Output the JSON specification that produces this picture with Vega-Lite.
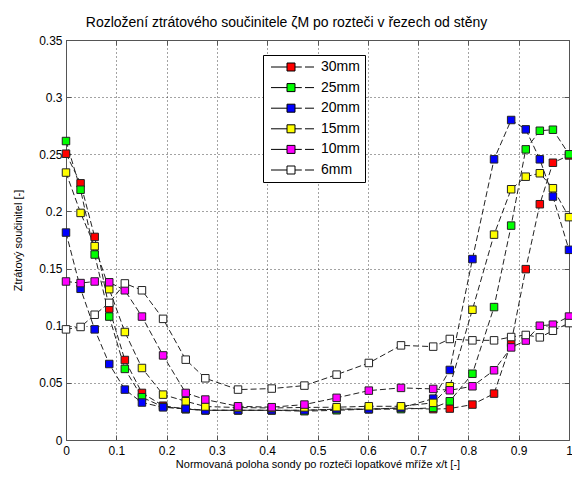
{
  "$schema": "https://vega.github.io/schema/vega-lite/v6.json",
  "width": 503,
  "height": 400,
  "autosize": "none",
  "padding": {"left": 66, "top": 40, "right": 3, "bottom": 38},
  "background": "white",
  "title": {"text": "Rozložení ztrátového součinitele ζM po rozteči v řezech od stěny", "font": "Liberation Sans", "fontSize": 14, "fontWeight": "normal", "color": "black", "offset": 4, "dx": -31},
  "config": {
    "view": {"stroke": null},
    "axis": {"domainColor": "#555", "tickColor": "#555", "labelFont": "Liberation Sans", "labelFontSize": 12, "labelColor": "black", "titleFont": "Liberation Sans", "titleFontWeight": "normal", "titleColor": "black", "titleFontSize": 11, "gridColor": "#333", "gridDash": [1, 3], "gridOpacity": 0.9}
  },
  "data": {"values": [
    {"s":"30mm","x":0,"y":0.2505},{"s":"30mm","x":0.029,"y":0.2246},{"s":"30mm","x":0.057,"y":0.1777},{"s":"30mm","x":0.086,"y":0.115},{"s":"30mm","x":0.117,"y":0.070},{"s":"30mm","x":0.151,"y":0.0412},{"s":"30mm","x":0.193,"y":0.030},{"s":"30mm","x":0.238,"y":0.027},{"s":"30mm","x":0.277,"y":0.026},{"s":"30mm","x":0.342,"y":0.026},{"s":"30mm","x":0.409,"y":0.026},{"s":"30mm","x":0.474,"y":0.026},{"s":"30mm","x":0.538,"y":0.027},{"s":"30mm","x":0.602,"y":0.027},{"s":"30mm","x":0.666,"y":0.028},{"s":"30mm","x":0.73,"y":0.027},{"s":"30mm","x":0.763,"y":0.0275},{"s":"30mm","x":0.808,"y":0.031},{"s":"30mm","x":0.851,"y":0.0406},{"s":"30mm","x":0.885,"y":0.085},{"s":"30mm","x":0.914,"y":0.1495},{"s":"30mm","x":0.942,"y":0.2063},{"s":"30mm","x":0.968,"y":0.2426},{"s":"30mm","x":1.0,"y":0.249},
    {"s":"25mm","x":0,"y":0.2616},{"s":"25mm","x":0.029,"y":0.219},{"s":"25mm","x":0.057,"y":0.1623},{"s":"25mm","x":0.086,"y":0.108},{"s":"25mm","x":0.117,"y":0.0622},{"s":"25mm","x":0.151,"y":0.0374},{"s":"25mm","x":0.193,"y":0.029},{"s":"25mm","x":0.238,"y":0.027},{"s":"25mm","x":0.277,"y":0.026},{"s":"25mm","x":0.342,"y":0.026},{"s":"25mm","x":0.409,"y":0.026},{"s":"25mm","x":0.474,"y":0.0252},{"s":"25mm","x":0.538,"y":0.026},{"s":"25mm","x":0.602,"y":0.027},{"s":"25mm","x":0.666,"y":0.027},{"s":"25mm","x":0.73,"y":0.0281},{"s":"25mm","x":0.763,"y":0.0339},{"s":"25mm","x":0.808,"y":0.058},{"s":"25mm","x":0.851,"y":0.1163},{"s":"25mm","x":0.885,"y":0.1876},{"s":"25mm","x":0.914,"y":0.2543},{"s":"25mm","x":0.942,"y":0.2706},{"s":"25mm","x":0.968,"y":0.2715},{"s":"25mm","x":1.0,"y":0.25},
    {"s":"20mm","x":0,"y":0.1815},{"s":"20mm","x":0.029,"y":0.1323},{"s":"20mm","x":0.057,"y":0.0968},{"s":"20mm","x":0.086,"y":0.0665},{"s":"20mm","x":0.117,"y":0.0441},{"s":"20mm","x":0.151,"y":0.0328},{"s":"20mm","x":0.193,"y":0.0286},{"s":"20mm","x":0.238,"y":0.0275},{"s":"20mm","x":0.277,"y":0.026},{"s":"20mm","x":0.342,"y":0.026},{"s":"20mm","x":0.409,"y":0.026},{"s":"20mm","x":0.474,"y":0.026},{"s":"20mm","x":0.538,"y":0.027},{"s":"20mm","x":0.602,"y":0.027},{"s":"20mm","x":0.666,"y":0.028},{"s":"20mm","x":0.73,"y":0.0362},{"s":"20mm","x":0.763,"y":0.0613},{"s":"20mm","x":0.808,"y":0.1583},{"s":"20mm","x":0.851,"y":0.2456},{"s":"20mm","x":0.885,"y":0.280},{"s":"20mm","x":0.914,"y":0.2718},{"s":"20mm","x":0.942,"y":0.2456},{"s":"20mm","x":0.968,"y":0.213},{"s":"20mm","x":1.0,"y":0.1664},
    {"s":"15mm","x":0,"y":0.234},{"s":"15mm","x":0.029,"y":0.1987},{"s":"15mm","x":0.057,"y":0.1696},{"s":"15mm","x":0.086,"y":0.132},{"s":"15mm","x":0.117,"y":0.0945},{"s":"15mm","x":0.151,"y":0.063},{"s":"15mm","x":0.193,"y":0.0397},{"s":"15mm","x":0.238,"y":0.0339},{"s":"15mm","x":0.277,"y":0.0293},{"s":"15mm","x":0.342,"y":0.0284},{"s":"15mm","x":0.409,"y":0.028},{"s":"15mm","x":0.474,"y":0.0285},{"s":"15mm","x":0.538,"y":0.0287},{"s":"15mm","x":0.602,"y":0.0295},{"s":"15mm","x":0.666,"y":0.0295},{"s":"15mm","x":0.73,"y":0.0325},{"s":"15mm","x":0.763,"y":0.047},{"s":"15mm","x":0.808,"y":0.114},{"s":"15mm","x":0.851,"y":0.1797},{"s":"15mm","x":0.885,"y":0.2194},{"s":"15mm","x":0.914,"y":0.2304},{"s":"15mm","x":0.942,"y":0.2334},{"s":"15mm","x":0.968,"y":0.2203},{"s":"15mm","x":1.0,"y":0.195},
    {"s":"10mm","x":0,"y":0.1387},{"s":"10mm","x":0.029,"y":0.1373},{"s":"10mm","x":0.057,"y":0.1387},{"s":"10mm","x":0.086,"y":0.138},{"s":"10mm","x":0.117,"y":0.131},{"s":"10mm","x":0.151,"y":0.108},{"s":"10mm","x":0.193,"y":0.074},{"s":"10mm","x":0.238,"y":0.0412},{"s":"10mm","x":0.277,"y":0.0354},{"s":"10mm","x":0.342,"y":0.0295},{"s":"10mm","x":0.409,"y":0.0287},{"s":"10mm","x":0.474,"y":0.031},{"s":"10mm","x":0.538,"y":0.0369},{"s":"10mm","x":0.602,"y":0.0432},{"s":"10mm","x":0.666,"y":0.0456},{"s":"10mm","x":0.73,"y":0.0447},{"s":"10mm","x":0.763,"y":0.0435},{"s":"10mm","x":0.808,"y":0.047},{"s":"10mm","x":0.851,"y":0.061},{"s":"10mm","x":0.885,"y":0.081},{"s":"10mm","x":0.914,"y":0.087},{"s":"10mm","x":0.942,"y":0.100},{"s":"10mm","x":0.968,"y":0.1009},{"s":"10mm","x":1.0,"y":0.108},
    {"s":"6mm","x":0,"y":0.0968},{"s":"6mm","x":0.029,"y":0.0989},{"s":"6mm","x":0.057,"y":0.1096},{"s":"6mm","x":0.086,"y":0.120},{"s":"6mm","x":0.117,"y":0.137},{"s":"6mm","x":0.151,"y":0.131},{"s":"6mm","x":0.193,"y":0.106},{"s":"6mm","x":0.238,"y":0.0703},{"s":"6mm","x":0.277,"y":0.054},{"s":"6mm","x":0.342,"y":0.0441},{"s":"6mm","x":0.409,"y":0.045},{"s":"6mm","x":0.474,"y":0.0476},{"s":"6mm","x":0.538,"y":0.0572},{"s":"6mm","x":0.602,"y":0.0674},{"s":"6mm","x":0.666,"y":0.0828},{"s":"6mm","x":0.73,"y":0.0817},{"s":"6mm","x":0.763,"y":0.0884},{"s":"6mm","x":0.808,"y":0.0872},{"s":"6mm","x":0.851,"y":0.0872},{"s":"6mm","x":0.885,"y":0.0901},{"s":"6mm","x":0.914,"y":0.0919},{"s":"6mm","x":0.942,"y":0.0898},{"s":"6mm","x":0.968,"y":0.0956},{"s":"6mm","x":1.0,"y":0.1023}
  ]},
  "layer": [
    {
      "mark": {"type": "line", "stroke": "#222", "strokeWidth": 1, "strokeDash": [6, 3]},
      "encoding": {
        "x": {"field": "x", "type": "quantitative", "scale": {"domain": [0, 1], "nice": false, "zero": false},
              "axis": {"orient": "bottom", "values": [0,0.1,0.2,0.3,0.4,0.5,0.6,0.7,0.8,0.9,1], "format": "~g", "grid": true, "tickSize": -5, "labelPadding": 10, "labelFlush": false, "title": "Normovaná poloha sondy po rozteči lopatkové mříže x/t [-]", "titlePadding": 2}},
        "y": {"field": "y", "type": "quantitative", "scale": {"domain": [0, 0.35], "nice": false, "zero": false},
              "axis": {"orient": "left", "values": [0,0.05,0.1,0.15,0.2,0.25,0.3,0.35], "format": "~g", "grid": true, "tickSize": -5, "labelPadding": 9, "labelFlush": false, "title": "Ztrátový součinitel [-]", "titlePadding": 15}},
        "detail": {"field": "s", "type": "nominal"}
      }
    },
    {
      "mark": {"type": "point", "shape": "square", "filled": true, "size": 56, "stroke": "#222", "strokeWidth": 1, "opacity": 1},
      "encoding": {
        "x": {"field": "x", "type": "quantitative", "axis": {"orient": "top", "values": [0,0.1,0.2,0.3,0.4,0.5,0.6,0.7,0.8,0.9,1], "labels": false, "grid": false, "tickSize": -5, "title": null}},
        "y": {"field": "y", "type": "quantitative", "axis": {"orient": "right", "values": [0,0.05,0.1,0.15,0.2,0.25,0.3,0.35], "labels": false, "grid": false, "tickSize": -5, "title": null}},
        "fill": {"field": "s", "type": "nominal",
                 "scale": {"domain": ["30mm","25mm","20mm","15mm","10mm","6mm"], "range": ["#ff0000","#00ff00","#0000ff","#ffff00","#ff00ff","#ffffff"]},
                 "legend": {"orient": "none", "legendX": 197, "legendY": 15, "title": null, "symbolType": "M-1,0H3M5,0H6.7M7.5,0H9.75M3,-1H5V1H3Z", "symbolSize": 64, "symbolStrokeColor": "#000", "symbolStrokeWidth": 1, "labelOffset": 39, "labelFontSize": 14, "labelFont": "Liberation Sans", "labelColor": "black", "rowPadding": 6.6, "padding": 5, "strokeColor": "#000", "fillColor": "white"}}
      }
    }
  ],
  "resolve": {"axis": {"x": "independent", "y": "independent"}}
}
